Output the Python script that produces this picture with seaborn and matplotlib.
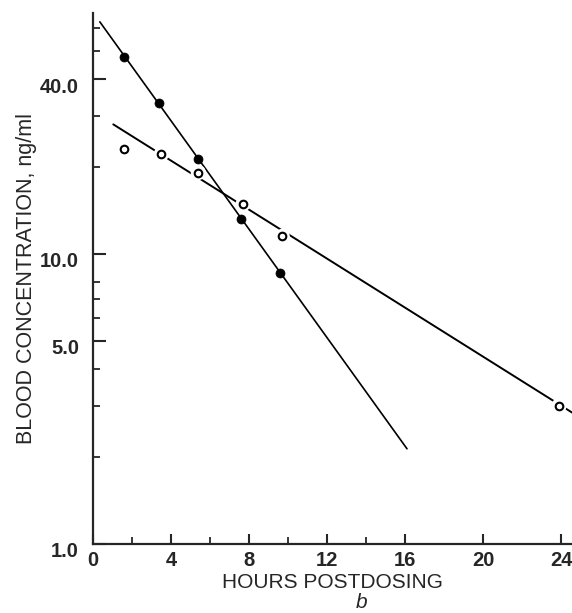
import numpy as np
import pandas as pd
import seaborn as sns
import matplotlib.pyplot as plt
import matplotlib.transforms as mtransforms
from matplotlib.ticker import FixedLocator, FixedFormatter, NullFormatter

# Filled circles
hours_filled = [1.6, 3.4, 5.4, 7.6, 9.6]
conc_filled = [47.9, 33.3, 21.2, 13.2, 8.6]
# Open circles
hours_open = [1.6, 3.5, 5.4, 7.7, 9.7, 23.9]
conc_open = [23.0, 22.1, 19.1, 14.9, 11.5, 3.0]
# Fitted line end points
fit_filled_x = [0.35, 16.1]
fit_filled_y = [63.2, 2.13]
fit_open_x = [1.04, 24.6]
fit_open_y = [28.0, 2.83]

y_major = [1, 5, 10, 40]
y_major_labels = ["1.0", "5.0", "10.0", "40.0"]
y_minor = [2, 3, 4, 6, 7, 8, 20, 30, 50, 60]
x_major = [0, 4, 8, 12, 16, 20, 24]
x_minor = [2, 6, 10, 14]

sns.set_style("ticks")
plt.rcParams["font.family"] = ["Liberation Sans", "DejaVu Sans"]

filled = pd.DataFrame({"hours": hours_filled, "conc": conc_filled})
opened = pd.DataFrame({"hours": hours_open, "conc": conc_open})
fit_f = pd.DataFrame({"hours": fit_filled_x, "conc": fit_filled_y})
fit_o = pd.DataFrame({"hours": fit_open_x, "conc": fit_open_y})

fig = plt.figure(figsize=(5.72, 6.13), dpi=100)
ax = fig.add_axes([93 / 572, 69 / 613, 479 / 572, 531 / 613])

sns.lineplot(data=fit_f, x="hours", y="conc", color="black", lw=1.2, ax=ax, zorder=2)
sns.lineplot(data=fit_o, x="hours", y="conc", color="black", lw=1.4, ax=ax, zorder=2)
# white halo so the line breaks around open markers
sns.scatterplot(data=opened, x="hours", y="conc", s=120, color="white", edgecolor="none",
                ax=ax, zorder=3)
sns.scatterplot(data=opened, x="hours", y="conc", s=30, facecolor="white",
                edgecolor="black", linewidth=1.5, ax=ax, zorder=4)
sns.scatterplot(data=filled, x="hours", y="conc", s=42, color="black",
                edgecolor="black", ax=ax, zorder=4)

ax.set_yscale("log")
ax.set_ylim(1, 67.8)
ax.set_xlim(0, 24.56)
ax.yaxis.set_major_locator(FixedLocator(y_major))
ax.yaxis.set_major_formatter(FixedFormatter(y_major_labels))
ax.yaxis.set_minor_locator(FixedLocator(y_minor))
ax.yaxis.set_minor_formatter(NullFormatter())
ax.xaxis.set_major_locator(FixedLocator(x_major))
ax.xaxis.set_minor_locator(FixedLocator(x_minor))

ax.tick_params(axis="both", which="major", direction="in", width=1.5, labelsize=14.5)
ax.tick_params(axis="y", which="major", length=9, pad=10)
ax.tick_params(axis="x", which="major", length=7, pad=5)
ax.tick_params(axis="both", which="minor", direction="in", width=1.3, length=5)
for lab in ax.get_xticklabels() + ax.get_yticklabels():
    lab.set_fontweight("bold")
offset = mtransforms.ScaledTranslation(0, -4 / 72, fig.dpi_scale_trans)
for lab in ax.get_yticklabels():
    lab.set_transform(lab.get_transform() + offset)

sns.despine(ax=ax)
for sp in ["left", "bottom"]:
    ax.spines[sp].set_linewidth(1.6)

ax.set_xlabel("HOURS POSTDOSING", fontsize=15, labelpad=2)
ax.set_ylabel("BLOOD CONCENTRATION, ng/ml", fontsize=15.5, labelpad=2)
fig.text(362 / 572, 1 - 603 / 613, "b", fontsize=15, style="italic",
         ha="center", va="center")

plt.savefig("out.png", dpi=100)
